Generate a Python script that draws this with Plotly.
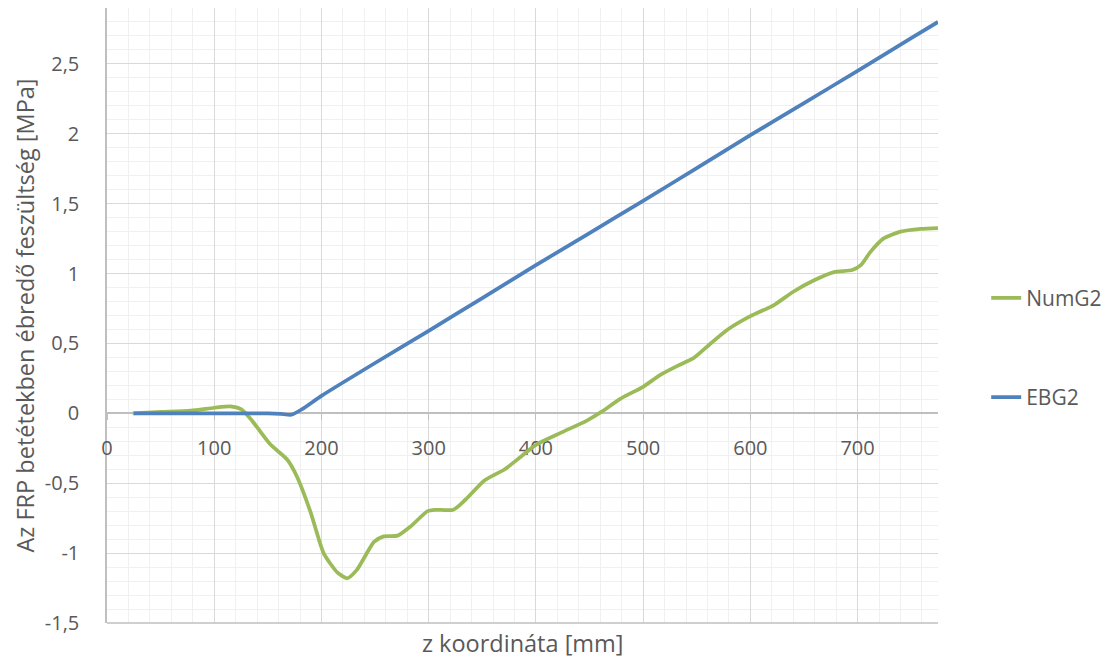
import plotly.graph_objects as go

# EBG2 series
ebg2_x = [25, 50, 75, 100, 125, 150, 162, 172, 182, 200, 250, 300, 350, 400, 450, 500, 550, 600, 650, 700, 750, 775]
ebg2_y = [0, 0, 0, 0, 0, 0, -0.004, -0.01, 0.03, 0.125, 0.36, 0.59, 0.825, 1.06, 1.29, 1.52, 1.755, 1.99, 2.22, 2.45, 2.685, 2.8]

# NumG2 series
num_x = [24, 50, 78, 100, 115, 125, 134, 152, 168, 177, 190, 202, 215, 224, 233, 249, 258, 271, 283, 299,
         306, 323, 334, 352, 371, 386, 400, 423, 448, 461, 479, 500, 516, 532, 547, 563, 578, 600, 622, 640,
         659, 678, 695, 703, 712, 724, 740, 759, 775]
num_y = [0.0, 0.01, 0.02, 0.04, 0.05, 0.03, -0.04, -0.22, -0.33, -0.45, -0.71, -1.0, -1.14, -1.18, -1.12, -0.92,
         -0.88, -0.875, -0.81, -0.70, -0.69, -0.69, -0.62, -0.48, -0.40, -0.31, -0.225, -0.14, -0.05, 0.01, 0.105,
         0.19, 0.275, 0.34, 0.395, 0.5, 0.595, 0.695, 0.775, 0.87, 0.95, 1.01, 1.025, 1.06, 1.155, 1.25, 1.3, 1.32,
         1.326]

x_range = [0, 775]
y_range = [-1.5, 2.9]
x_tickvals = [0, 100, 200, 300, 400, 500, 600, 700]
x_ticktext = ["0", "100", "200", "300", "400", "500", "600", "700"]
y_tickvals = [-1.5, -1, -0.5, 0, 0.5, 1, 1.5, 2, 2.5]
y_ticktext = ["-1,5", "-1", "-0,5", "0", "0,5", "1", "1,5", "2", "2,5"]

FONT = "Open Sans"
TXT = "#595959"
TICK_FS = 20
TITLE_FS = 23.5
LEG_FS = 21

fig = go.Figure()
fig.add_trace(go.Scatter(x=num_x, y=num_y, mode="lines", name="NumG2",
                         line=dict(color="#9bbb59", width=3.75, shape="spline", smoothing=0.6),
                         legendgroup="a", legendrank=1))
fig.add_trace(go.Scatter(x=ebg2_x, y=ebg2_y, mode="lines", name="EBG2",
                         line=dict(color="#4f81bd", width=3.75, shape="spline", smoothing=0.6),
                         legendgroup="b", legendrank=2))

zero_pos = (0 - y_range[0]) / (y_range[1] - y_range[0])

fig.update_layout(
    width=1115, height=659,
    margin=dict(l=107, r=177, t=8, b=36),
    paper_bgcolor="white", plot_bgcolor="white",
    font=dict(family=FONT, size=TICK_FS, color=TXT),
    showlegend=True,
    legend=dict(x=1.058, y=0.5615, xanchor="left", yanchor="top",
                tracegroupgap=69, font=dict(size=LEG_FS, color=TXT),
                bgcolor="rgba(0,0,0,0)"),
    xaxis=dict(range=x_range, tickvals=x_tickvals, ticktext=x_ticktext, anchor="free", position=zero_pos,
               showgrid=True, gridcolor="#d9d9d9", gridwidth=1,
               minor=dict(dtick=20, showgrid=True, gridcolor="#f0f0f0", gridwidth=1),
               showline=True, linecolor="#bfbfbf", linewidth=1.5, layer="below traces",
               ticks="outside", ticklen=6, tickcolor="#bfbfbf", ticklabelstandoff=11,
               zeroline=False, tickfont=dict(size=TICK_FS, color=TXT)),
    yaxis=dict(range=y_range, tickvals=y_tickvals, ticktext=y_ticktext,
               showgrid=True, gridcolor="#d9d9d9", gridwidth=1,
               minor=dict(dtick=0.1, showgrid=True, gridcolor="#f0f0f0", gridwidth=1),
               showline=True, linecolor="#bfbfbf", linewidth=1.5, layer="below traces",
               zeroline=False, ticks="", ticklabelstandoff=22,
               tickfont=dict(size=TICK_FS, color=TXT),
               title=dict(text="Az FRP betétekben ébredő feszültség [MPa]",
                          font=dict(size=TITLE_FS, color=TXT), standoff=4)),
    shapes=[dict(type="line", xref="paper", yref="paper", x0=0, x1=1, y0=0, y1=0,
                 line=dict(color="#bfbfbf", width=1.5))],
    annotations=[dict(text="z koordináta [mm]", xref="paper", yref="paper", x=0.5, y=0,
                      yshift=-2, yanchor="top", showarrow=False, font=dict(size=TITLE_FS, color=TXT))],
)

fig.write_html("out.html", config={"displayModeBar": False},
               post_script="document.body.style.margin='0';")
